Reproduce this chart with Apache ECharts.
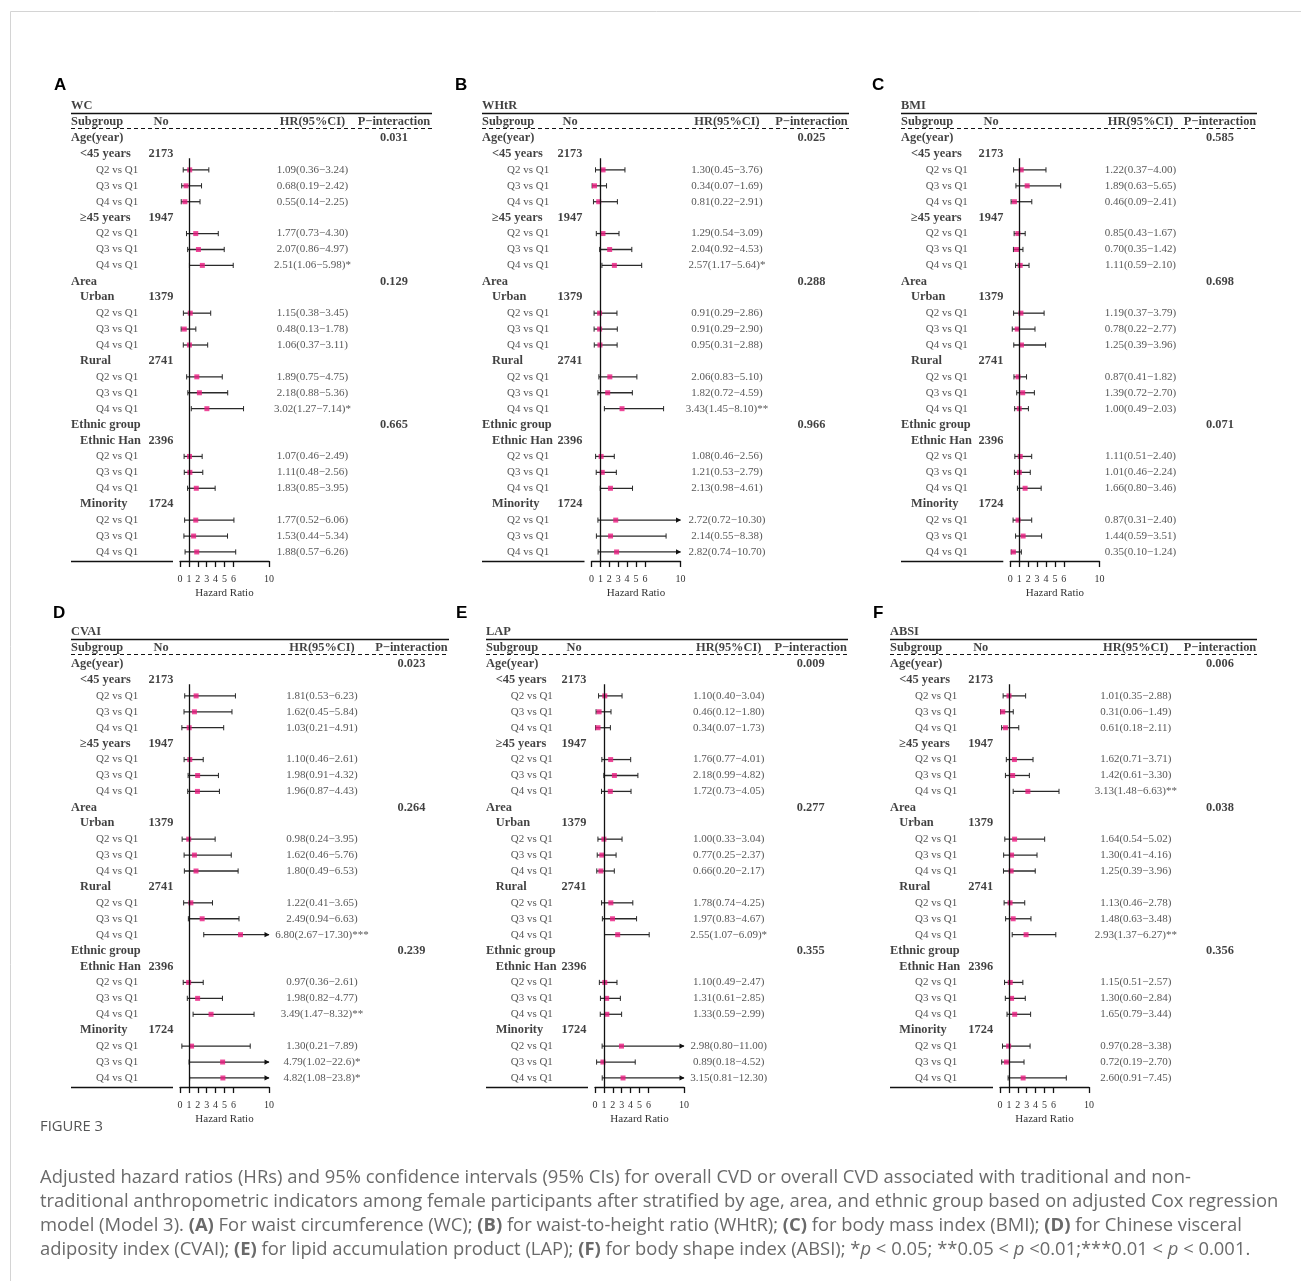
<!DOCTYPE html>
<html><head><meta charset="utf-8">
<script src="https://cdn.jsdelivr.net/npm/echarts@6/dist/echarts.min.js"></script>
<style>html,body{margin:0;padding:0;background:#fff}#c{width:1301px;height:1281px}</style>
</head><body><div id="c"></div>
<script>
// ---------- DATA ----------
const panelNames = ['WC', 'WHtR', 'BMI', 'CVAI', 'LAP', 'ABSI'];
const panelLetters = ['A', 'B', 'C', 'D', 'E', 'F'];
const headerText = ['Subgroup', 'No', 'HR(95%CI)', 'P\u2212interaction'];
const rowText = ['Age(year)', '<45 years', 'Q2 vs Q1', 'Q3 vs Q1', 'Q4 vs Q1', '\u226545 years', 'Q2 vs Q1', 'Q3 vs Q1', 'Q4 vs Q1',
  'Area', 'Urban', 'Q2 vs Q1', 'Q3 vs Q1', 'Q4 vs Q1', 'Rural', 'Q2 vs Q1', 'Q3 vs Q1', 'Q4 vs Q1',
  'Ethnic group', 'Ethnic Han', 'Q2 vs Q1', 'Q3 vs Q1', 'Q4 vs Q1', 'Minority', 'Q2 vs Q1', 'Q3 vs Q1', 'Q4 vs Q1'];
const rowLevel = [0, 1, 2, 2, 2, 1, 2, 2, 2, 0, 1, 2, 2, 2, 1, 2, 2, 2, 0, 1, 2, 2, 2, 1, 2, 2, 2];
const rowN = ['', '2173', '', '', '', '1947', '', '', '', '', '1379', '', '', '', '2741', '', '', '', '', '2396', '', '', '', '1724', '', '', ''];
const tickValues = [0, 1, 2, 3, 4, 5, 6, 10];

const WC_hr = [1.09, 0.68, 0.55, 1.77, 2.07, 2.51, 1.15, 0.48, 1.06, 1.89, 2.18, 3.02, 1.07, 1.11, 1.83, 1.77, 1.53, 1.88];
const WC_lo = [0.36, 0.19, 0.14, 0.73, 0.86, 1.06, 0.38, 0.13, 0.37, 0.75, 0.88, 1.27, 0.46, 0.48, 0.85, 0.52, 0.44, 0.57];
const WC_hi = [3.24, 2.42, 2.25, 4.30, 4.97, 5.98, 3.45, 1.78, 3.11, 4.75, 5.36, 7.14, 2.49, 2.56, 3.95, 6.06, 5.34, 6.26];
const WC_sig = ['', '', '', '', '', '*', '', '', '', '', '', '*', '', '', '', '', '', ''];
const WC_p = ['0.031', '0.129', '0.665'];

const WHtR_hr = [1.30, 0.34, 0.81, 1.29, 2.04, 2.57, 0.91, 0.91, 0.95, 2.06, 1.82, 3.43, 1.08, 1.21, 2.13, 2.72, 2.14, 2.82];
const WHtR_lo = [0.45, 0.07, 0.22, 0.54, 0.92, 1.17, 0.29, 0.29, 0.31, 0.83, 0.72, 1.45, 0.46, 0.53, 0.98, 0.72, 0.55, 0.74];
const WHtR_hi = [3.76, 1.69, 2.91, 3.09, 4.53, 5.64, 2.86, 2.90, 2.88, 5.10, 4.59, 8.10, 2.56, 2.79, 4.61, 10.30, 8.38, 10.70];
const WHtR_sig = ['', '', '', '', '', '*', '', '', '', '', '', '**', '', '', '', '', '', ''];
const WHtR_p = ['0.025', '0.288', '0.966'];

const BMI_hr = [1.22, 1.89, 0.46, 0.85, 0.70, 1.11, 1.19, 0.78, 1.25, 0.87, 1.39, 1.00, 1.11, 1.01, 1.66, 0.87, 1.44, 0.35];
const BMI_lo = [0.37, 0.63, 0.09, 0.43, 0.35, 0.59, 0.37, 0.22, 0.39, 0.41, 0.72, 0.49, 0.51, 0.46, 0.80, 0.31, 0.59, 0.10];
const BMI_hi = [4.00, 5.65, 2.41, 1.67, 1.42, 2.10, 3.79, 2.77, 3.96, 1.82, 2.70, 2.03, 2.40, 2.24, 3.46, 2.40, 3.51, 1.24];
const BMI_sig = ['', '', '', '', '', '', '', '', '', '', '', '', '', '', '', '', '', ''];
const BMI_p = ['0.585', '0.698', '0.071'];

const CVAI_hr = [1.81, 1.62, 1.03, 1.10, 1.98, 1.96, 0.98, 1.62, 1.80, 1.22, 2.49, 6.80, 0.97, 1.98, 3.49, 1.30, 4.79, 4.82];
const CVAI_lo = [0.53, 0.45, 0.21, 0.46, 0.91, 0.87, 0.24, 0.46, 0.49, 0.41, 0.94, 2.67, 0.36, 0.82, 1.47, 0.21, 1.02, 1.08];
const CVAI_hi = [6.23, 5.84, 4.91, 2.61, 4.32, 4.43, 3.95, 5.76, 6.53, 3.65, 6.63, 17.30, 2.61, 4.77, 8.32, 7.89, 22.6, 23.8];
const CVAI_sig = ['', '', '', '', '', '', '', '', '', '', '', '***', '', '', '**', '', '*', '*'];
const CVAI_p = ['0.023', '0.264', '0.239'];

const LAP_hr = [1.10, 0.46, 0.34, 1.76, 2.18, 1.72, 1.00, 0.77, 0.66, 1.78, 1.97, 2.55, 1.10, 1.31, 1.33, 2.98, 0.89, 3.15];
const LAP_lo = [0.40, 0.12, 0.07, 0.77, 0.99, 0.73, 0.33, 0.25, 0.20, 0.74, 0.83, 1.07, 0.49, 0.61, 0.59, 0.80, 0.18, 0.81];
const LAP_hi = [3.04, 1.80, 1.73, 4.01, 4.82, 4.05, 3.04, 2.37, 2.17, 4.25, 4.67, 6.09, 2.47, 2.85, 2.99, 11.00, 4.52, 12.30];
const LAP_sig = ['', '', '', '', '', '', '', '', '', '', '', '*', '', '', '', '', '', ''];
const LAP_p = ['0.009', '0.277', '0.355'];

const ABSI_hr = [1.01, 0.31, 0.61, 1.62, 1.42, 3.13, 1.64, 1.30, 1.25, 1.13, 1.48, 2.93, 1.15, 1.30, 1.65, 0.97, 0.72, 2.60];
const ABSI_lo = [0.35, 0.06, 0.18, 0.71, 0.61, 1.48, 0.54, 0.41, 0.39, 0.46, 0.63, 1.37, 0.51, 0.60, 0.79, 0.28, 0.19, 0.91];
const ABSI_hi = [2.88, 1.49, 2.11, 3.71, 3.30, 6.63, 5.02, 4.16, 3.96, 2.78, 3.48, 6.27, 2.57, 2.84, 3.44, 3.38, 2.70, 7.45];
const ABSI_sig = ['', '', '', '', '', '**', '', '', '', '', '', '**', '', '', '', '', '', ''];
const ABSI_p = ['0.006', '0.038', '0.356'];

const figureLabel = 'FIGURE 3';
const captionLines = [
  'Adjusted hazard ratios (HRs) and 95% confidence intervals (95% CIs) for overall CVD or overall CVD associated with traditional and non-',
  'traditional anthropometric indicators among female participants after stratified by age, area, and ethnic group based on adjusted Cox regression',
  'model (Model 3). {b|(A)} For waist circumference (WC); {b|(B)} for waist-to-height ratio (WHtR); {b|(C)} for body mass index (BMI); {b|(D)} for Chinese visceral',
  'adiposity index (CVAI); {b|(E)} for lipid accumulation product (LAP); {b|(F)} for body shape index (ABSI); *{i|p} < 0.05; **0.05 < {i|p} <0.01;***0.01 < {i|p} < 0.001.'
];

// ---------- LAYOUT ----------
const PANEL_DATA = [
  [WC_hr, WC_lo, WC_hi, WC_sig, WC_p],
  [WHtR_hr, WHtR_lo, WHtR_hi, WHtR_sig, WHtR_p],
  [BMI_hr, BMI_lo, BMI_hi, BMI_sig, BMI_p],
  [CVAI_hr, CVAI_lo, CVAI_hi, CVAI_sig, CVAI_p],
  [LAP_hr, LAP_lo, LAP_hi, LAP_sig, LAP_p],
  [ABSI_hr, ABSI_lo, ABSI_hi, ABSI_sig, ABSI_p]
];
const LAYOUT = [
  {left: 71, right: 432, ind1: 80, ind2: 96, noC: 161, hrC: 312.5, pC: 394, ax0: 180, ax10: 269, lx: 54, ly: 86, y0: 106.2},
  {left: 482, right: 849, ind1: 492, ind2: 507, noC: 570, hrC: 727, pC: 811.5, ax0: 591.5, ax10: 680.5, lx: 455, ly: 86, y0: 106.2},
  {left: 901, right: 1257, ind1: 911, ind2: 925.7, noC: 991, hrC: 1140.5, pC: 1220, ax0: 1010.3, ax10: 1099.5, lx: 872, ly: 86, y0: 106.2},
  {left: 71, right: 449, ind1: 80, ind2: 96, noC: 161, hrC: 322, pC: 411.5, ax0: 180, ax10: 269, lx: 53, ly: 614, y0: 632.2},
  {left: 486, right: 848, ind1: 495.7, ind2: 510.7, noC: 574, hrC: 728.7, pC: 810.7, ax0: 595, ax10: 684, lx: 456, ly: 614, y0: 632.2},
  {left: 890, right: 1257, ind1: 899.3, ind2: 915, noC: 980.7, hrC: 1135.8, pC: 1220, ax0: 1000, ax10: 1089, lx: 873, ly: 614, y0: 632.2}
];
const STEP = 15.92, YMIN = -1, YMAX = 28.57;
const SERIF = 'Liberation Serif';
const BOLD_SIZE = 12.4, NORM_SIZE = 11;
const PINK = '#EA1A7F';

function fmt(v) { return v >= 20 ? v.toFixed(1) : v.toFixed(2); }

function renderCI(params, api) {
  const lo = api.value(0), hi = api.value(1), row = api.value(2);
  const p0 = api.coord([lo, row]);
  const p1 = api.coord([Math.min(hi, 10), row]);
  const st = {stroke: '#2a2a2a', lineWidth: 1.3};
  const ch = [
    {type: 'line', shape: {x1: p0[0], y1: p0[1], x2: p1[0], y2: p1[1]}, style: st},
    {type: 'line', shape: {x1: p0[0], y1: p0[1] - 2.6, x2: p0[0], y2: p0[1] + 2.6}, style: {stroke: '#2a2a2a', lineWidth: 1}}
  ];
  if (hi > 10) {
    ch.push({type: 'polygon', shape: {points: [[p1[0] + 0.5, p1[1]], [p1[0] - 4.5, p1[1] - 2.6], [p1[0] - 4.5, p1[1] + 2.6]]}, style: {fill: '#111'}});
  } else {
    ch.push({type: 'line', shape: {x1: p1[0], y1: p1[1] - 2.6, x2: p1[0], y2: p1[1] + 2.6}, style: {stroke: '#2a2a2a', lineWidth: 1}});
  }
  return {type: 'group', children: ch};
}

const grid = [], xAxis = [], yAxis = [], series = [], title = [];
PANEL_DATA.forEach((pd, k) => {
  const L = LAYOUT[k];
  const [hr, lo, hi, sig, pv] = pd;
  const top = L.y0 + YMIN * STEP, height = (YMAX - YMIN) * STEP;
  const W = L.right - L.left;
  grid.push({left: L.left, top: top, width: W, height: height, containLabel: false});
  grid.push({left: L.ax0, top: top, width: L.ax10 - L.ax0, height: height, containLabel: false});
  const gi = 2 * k, gf = 2 * k + 1;
  xAxis.push({gridIndex: gi, type: 'value', min: 0, max: W, show: false});
  yAxis.push({gridIndex: gi, type: 'value', min: YMIN, max: YMAX, inverse: true, show: false});
  xAxis.push({gridIndex: gf, type: 'value', min: 0, max: 10, position: 'bottom',
    axisLine: {show: true, onZero: false, lineStyle: {color: '#111', width: 1.3}},
    axisTick: {show: true, inside: false, length: 6, customValues: tickValues, lineStyle: {color: '#111', width: 1.3}},
    axisLabel: {show: true, customValues: tickValues, margin: 13, fontFamily: SERIF, fontSize: 10, color: '#333', hideOverlap: false},
    splitLine: {show: false},
    name: 'Hazard Ratio', nameLocation: 'middle', nameGap: 27,
    nameTextStyle: {fontFamily: SERIF, fontSize: 11, color: '#333'}
  });
  yAxis.push({gridIndex: gf, type: 'value', min: YMIN, max: YMAX, inverse: true, show: false});

  // table texts
  const items = [];
  const B = {fontWeight: 'bold', fontSize: BOLD_SIZE, color: '#111'};
  items.push({name: panelNames[k], value: [0, 0], label: Object.assign({align: 'left'}, B)});
  items.push({name: headerText[0], value: [0, 1], label: Object.assign({align: 'left'}, B)});
  items.push({name: headerText[1], value: [L.noC - L.left, 1], label: Object.assign({align: 'center'}, B)});
  items.push({name: headerText[2], value: [L.hrC - L.left, 1], label: Object.assign({align: 'center'}, B)});
  items.push({name: headerText[3], value: [L.pC - L.left, 1], label: Object.assign({align: 'center'}, B)});
  const ciData = [], ptData = [];
  let e = 0, g = 0;
  rowText.forEach((t, r) => {
    const row = r + 2, lev = rowLevel[r];
    const x = lev === 0 ? 0 : (lev === 1 ? L.ind1 - L.left : L.ind2 - L.left);
    if (lev < 2) items.push({name: t, value: [x, row], label: Object.assign({align: 'left'}, B)});
    else items.push({name: t, value: [x, row], label: {align: 'left', fontWeight: 'normal', fontSize: NORM_SIZE, color: '#2b2b2b'}});
    if (rowN[r]) items.push({name: rowN[r], value: [L.noC - L.left, row], label: Object.assign({align: 'center'}, B)});
    if (lev === 0) { items.push({name: pv[g], value: [L.pC - L.left, row], label: Object.assign({align: 'center'}, B)}); g++; }
    if (lev === 2) {
      const txt = fmt(hr[e]) + '(' + fmt(lo[e]) + '\u2212' + fmt(hi[e]) + ')' + sig[e];
      items.push({name: txt, value: [L.hrC - L.left, row], label: {align: 'center', fontWeight: 'normal', fontSize: NORM_SIZE, color: '#2b2b2b'}});
      ciData.push([lo[e], hi[e], row]);
      ptData.push([hr[e], row]);
      e++;
    }
  });
  series.push({
    type: 'scatter', xAxisIndex: gi, yAxisIndex: gi, symbolSize: 1, itemStyle: {color: 'rgba(0,0,0,0)'},
    silent: true, animation: false, z: 5,
    label: {show: true, position: 'inside', formatter: '{b}', fontFamily: SERIF, fontSize: NORM_SIZE, verticalAlign: 'middle', color: '#222'},
    labelLayout: {hideOverlap: false},
    data: items,
    markLine: {
      silent: true, symbol: 'none', animation: false, label: {show: false},
      data: [
        [{coord: [0, 0.42], lineStyle: {color: '#111', width: 1.3, type: 'solid'}}, {coord: [W, 0.42]}],
        [{coord: [0, 1.4], lineStyle: {color: '#111', width: 1.1, type: [4, 3]}}, {coord: [W, 1.4]}],
        [{coord: [0, YMAX], lineStyle: {color: '#111', width: 1.3, type: 'solid'}}, {coord: [L.ax0 - 7 - L.left, YMAX]}]
      ]
    }
  });
  series.push({
    type: 'custom', xAxisIndex: gf, yAxisIndex: gf, renderItem: renderCI, clip: false,
    dimensions: ['lo', 'hi', 'row'], encode: {x: [0, 1], y: 2},
    data: ciData, silent: true, animation: false, z: 3
  });
  series.push({
    type: 'scatter', xAxisIndex: gf, yAxisIndex: gf, symbol: 'rect', symbolSize: 5,
    itemStyle: {color: PINK}, data: ptData, silent: true, animation: false, z: 4,
    markLine: {
      silent: true, symbol: 'none', animation: false, label: {show: false},
      lineStyle: {color: '#111', width: 1.3, type: 'solid'},
      data: [[{coord: [1, 3.27]}, {coord: [1, YMAX]}]]
    }
  });
  title.push({text: panelLetters[k], left: L.lx, top: L.ly - 9, padding: 0,
    textStyle: {fontFamily: 'Liberation Sans', fontWeight: 'bold', fontSize: 17, color: '#000'}});
});

const CAP_STYLE = {fontFamily: 'Open Sans', fontSize: 18.4, color: '#6a6a6a', lineHeight: 24};
title.push({text: figureLabel, left: 40, top: 1119, padding: 0,
  textStyle: {fontFamily: 'Open Sans', fontSize: 14.8, color: '#555', fontWeight: 'normal'}});
title.push({text: captionLines.join('\n'), left: 40, top: 1166, padding: 0,
  textStyle: Object.assign({fontWeight: 'normal', rich: {
    b: Object.assign({fontWeight: 'bold'}, CAP_STYLE),
    i: Object.assign({fontStyle: 'italic'}, CAP_STYLE)
  }}, CAP_STYLE)});

const chart = echarts.init(document.getElementById('c'), null, {renderer: 'canvas'});
chart.setOption({
  backgroundColor: '#fff',
  animation: false,
  title: title,
  grid: grid, xAxis: xAxis, yAxis: yAxis, series: series,
  graphic: [{type: 'rect', silent: true, shape: {x: 10.5, y: 11.5, width: 1400, height: 1400},
    style: {fill: 'none', stroke: '#d4d4d4', lineWidth: 1}}]
});
</script>
</body></html>
